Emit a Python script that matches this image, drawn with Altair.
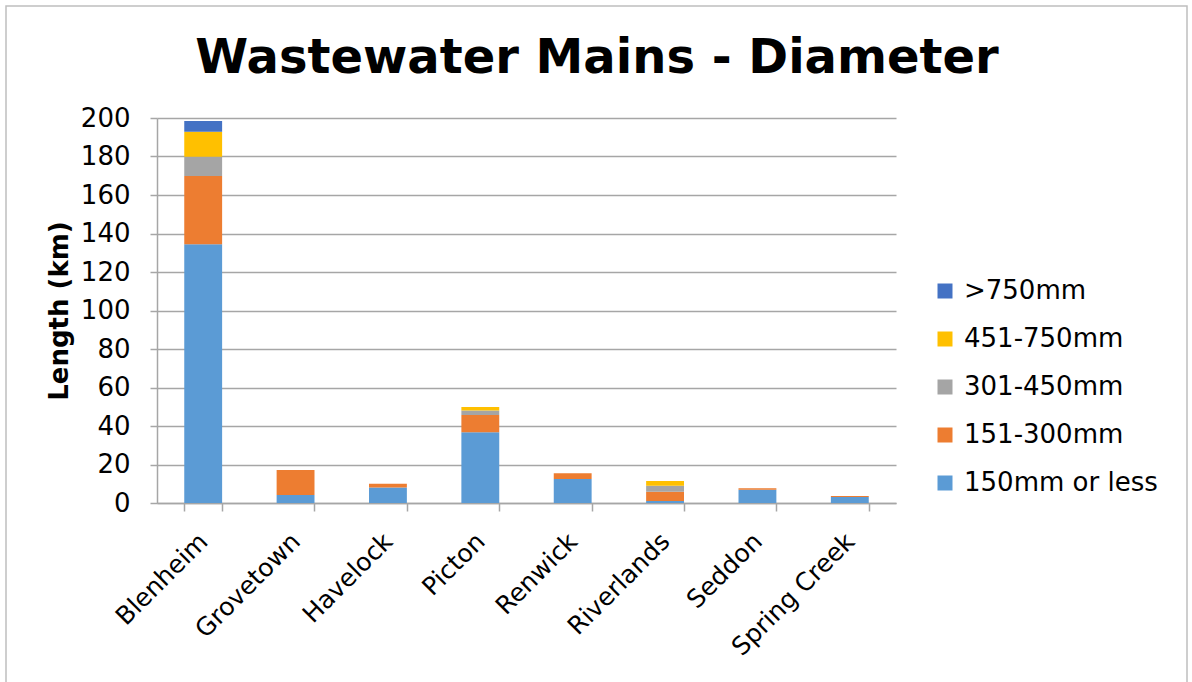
import altair as alt
import pandas as pd

# Wastewater mains length (km) by township and pipe diameter class
towns = ["Blenheim", "Grovetown", "Havelock", "Picton", "Renwick",
         "Riverlands", "Seddon", "Spring Creek"]
classes = ["150mm or less", "151-300mm", "301-450mm", "451-750mm", ">750mm"]
colors = ["#5B9BD5", "#ED7D31", "#A5A5A5", "#FFC000", "#4472C4"]

len_150_or_less = [134.4, 4.2, 8.1, 36.7, 12.5, 1.0, 6.9, 3.1]
len_151_300 = [35.5, 12.9, 1.9, 9.0, 2.9, 4.9, 0.7, 0.5]
len_301_450 = [10.0, 0.0, 0.0, 2.4, 0.0, 3.1, 0.0, 0.0]
len_451_750 = [13.0, 0.0, 0.0, 1.8, 0.0, 2.4, 0.0, 0.0]
len_over_750 = [5.5, 0.0, 0.0, 0.0, 0.0, 0.0, 0.0, 0.0]

series = [len_150_or_less, len_151_300, len_301_450, len_451_750, len_over_750]
y_ticks = list(range(0, 201, 20))
chart_title = "Wastewater Mains - Diameter"

rows = []
for k, (cls, vals) in enumerate(zip(classes, series)):
    for town, v in zip(towns, vals):
        rows.append({"Town": town, "Diameter": cls, "Length": v, "order": k})
df = pd.DataFrame(rows)

FONT = "DejaVu Sans"
GRID = "#A6A6A6"

bars = alt.Chart(df).mark_bar().encode(
    x=alt.X("Town:N", sort=towns,
            scale=alt.Scale(paddingInner=0.59, paddingOuter=0.295),
            axis=alt.Axis(title=None, labelAngle=-45, labelAlign="right",
                          labelBaseline="middle", labelFontSize=25,
                          labelFont=FONT, labelColor="black",
                          labelPadding=26, labelOffset=0, tickBand="extent",
                          tickSize=8, tickColor=GRID, tickWidth=1.5,
                          domainColor=GRID, domainWidth=1.5, grid=False)),
    y=alt.Y("Length:Q", stack="zero",
            scale=alt.Scale(domain=[0, 200], nice=False),
            axis=alt.Axis(title="Length (km)", values=y_ticks,
                          titleFont=FONT, titleFontSize=26,
                          titleFontWeight="bold", titleColor="black",
                          titlePadding=8,
                          labelFont=FONT, labelFontSize=26,
                          labelColor="black", labelPadding=20,
                          tickSize=7, tickColor=GRID, tickWidth=1.5,
                          domainColor=GRID, domainWidth=1.5,
                          gridColor=GRID, gridWidth=1.5)),
    color=alt.Color("Diameter:N",
                    scale=alt.Scale(domain=classes[::-1], range=colors[::-1]),
                    legend=alt.Legend(title=None, orient="none",
                                      legendX=775, legendY=160,
                                      symbolType="square", symbolSize=225,
                                      symbolStrokeWidth=0,
                                      labelFont=FONT, labelFontSize=26,
                                      labelColor="black", labelOffset=6,
                                      labelLimit=0, rowPadding=22)),
    order=alt.Order("order:Q", sort="ascending"),
)

# light frame around the whole figure
frame = alt.Chart(pd.DataFrame({"k": [0]})).mark_rect(
    fill=None, stroke="#BFBFBF", strokeWidth=1.5
).encode(x=alt.value(-151), x2=alt.value(1030),
         y=alt.value(-112), y2=alt.value(620))

# chart heading, centred over the figure
heading = alt.Chart(pd.DataFrame({"t": [chart_title]})).mark_text(
    font=FONT, fontSize=48, fontWeight="bold", color="black",
    align="center", baseline="alphabetic"
).encode(text="t:N", x=alt.value(440), y=alt.value(-45))

chart = alt.layer(frame, bars, heading).properties(
    width=739, height=385,
    autosize=alt.AutoSizeParams(type="none"),
    padding={"left": 157, "top": 118, "right": 296, "bottom": 179},
    background="white",
).configure_view(stroke=None)

chart.save("out.html", embed_options={"renderer": "svg", "actions": False})
